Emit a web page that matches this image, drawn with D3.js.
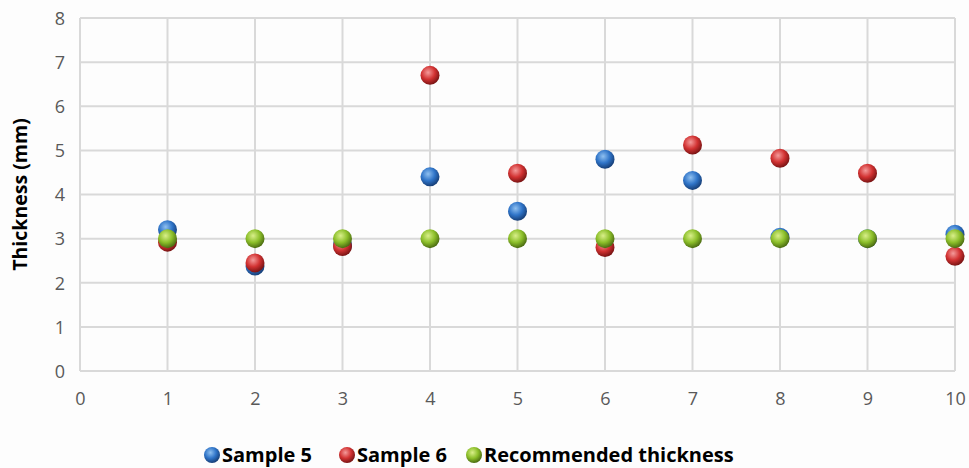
<!DOCTYPE html>
<html><head><meta charset="utf-8">
<script src="https://cdn.jsdelivr.net/npm/d3@7/dist/d3.min.js"></script>
<style>body{margin:0;background:#fdfdfd;}svg{display:block;}</style>
</head><body>
<svg id="c" width="969" height="468"></svg>
<script>
const xValues = [1,2,3,4,5,6,7,8,9,10];
const sample5 = [3.2,2.38,2.85,4.4,3.62,4.8,4.32,3.03,3.0,3.1];
const sample6 = [2.92,2.45,2.82,6.7,4.48,2.8,5.12,4.82,4.48,2.6];
const recommended = [3,3,3,3,3,3,3,3,3,3];
const xTicks = [0,1,2,3,4,5,6,7,8,9,10];
const yTicks = [0,1,2,3,4,5,6,7,8];
const seriesNames = ["Sample 5","Sample 6","Recommended thickness"];
const seriesColors = [["#8fc0f0","#2f74c8","#173f78"],["#f49a9a","#d23232","#7a1414"],["#d9ef8a","#8cbf2a","#4c6d12"]];

const svg = d3.select("#c");
const x = d3.scaleLinear().domain([0,10]).range([80,955]);
const y = d3.scaleLinear().domain([0,8]).range([371,18]);
const font = "'Open Sans', 'Noto Sans', sans-serif";

const defs = svg.append("defs");
seriesColors.forEach((c,i)=>{
  const g = defs.append("radialGradient").attr("id","g"+i).attr("cx","40%").attr("cy","35%").attr("r","65%");
  g.append("stop").attr("offset","0%").attr("stop-color",c[0]);
  g.append("stop").attr("offset","55%").attr("stop-color",c[1]);
  g.append("stop").attr("offset","100%").attr("stop-color",c[2]);
});

// grid
svg.append("g").selectAll("line").data(yTicks).join("line")
  .attr("x1",x(0)).attr("x2",x(10)).attr("y1",d=>y(d)).attr("y2",d=>y(d))
  .attr("stroke","#d9d9d9").attr("stroke-width",2);
svg.append("g").selectAll("line").data(xTicks).join("line")
  .attr("y1",y(0)).attr("y2",y(8)).attr("x1",d=>x(d)).attr("x2",d=>x(d))
  .attr("stroke","#d9d9d9").attr("stroke-width",2);

// axes labels
const yAxis = d3.axisLeft(y).tickValues(yTicks).tickSize(0).tickPadding(0);
const ya = svg.append("g").attr("transform","translate(65,0)").call(yAxis);
ya.select(".domain").remove();
ya.selectAll("text").attr("font-family",font).attr("font-size",18).attr("fill","#595959").attr("dy","0.35em");

const xAxis = d3.axisBottom(x).tickValues(xTicks).tickSize(0).tickPadding(0);
const xa = svg.append("g").attr("transform","translate(0,392)").call(xAxis);
xa.select(".domain").remove();
xa.selectAll("text").attr("font-family",font).attr("font-size",18).attr("fill","#595959").attr("dy","0.7em");

svg.append("text").attr("transform",`translate(27,${(y(0)+y(8))/2}) rotate(-90)`)
  .attr("text-anchor","middle").attr("font-family",font).attr("font-weight","bold")
  .attr("font-size",19.5).attr("fill","#000").text("Thickness (mm)");

// points
const allSeries = [sample5,sample6,recommended];
allSeries.forEach((s,i)=>{
  svg.append("g").selectAll("circle").data(xValues.map((xv,j)=>[xv,s[j]])).join("circle")
    .attr("cx",d=>x(d[0])).attr("cy",d=>y(d[1])).attr("r",9.5)
    .attr("fill",`url(#g${i})`);
});

// legend
const legendX = [212, 347, 474];
const lg = svg.append("g");
seriesNames.forEach((n,i)=>{
  lg.append("circle").attr("cx",legendX[i]).attr("cy",455).attr("r",8).attr("fill",`url(#g${i})`);
  lg.append("text").attr("x",legendX[i]+10).attr("y",455).attr("dy","0.35em")
    .attr("font-family",font).attr("font-weight","bold").attr("font-size",20).attr("fill","#000").text(n);
});
</script>
</body></html>
